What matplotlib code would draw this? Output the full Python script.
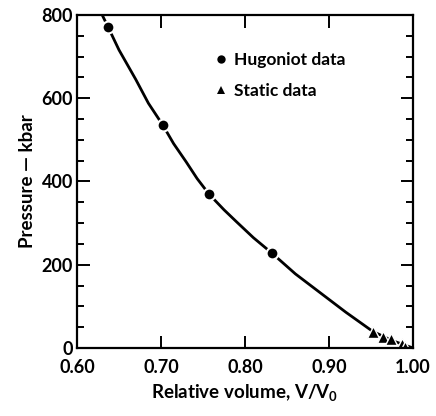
import matplotlib
matplotlib.use("Agg")
import matplotlib.pyplot as plt

plt.rcParams['font.family'] = ['Lato', 'DejaVu Sans']
plt.rcParams['font.weight'] = 'bold'
plt.rcParams['axes.labelweight'] = 'bold'

# values
hug_v = [0.637, 0.702, 0.757, 0.832]
hug_p = [771, 536, 370, 228]
static_v = [0.952, 0.964, 0.974, 0.987, 0.991]
static_p = [38, 26, 22, 10, 3]
curve_v = [0.630, 0.637, 0.65, 0.67, 0.685, 0.702, 0.715, 0.73, 0.743, 0.757, 0.775,
           0.79, 0.81, 0.832, 0.86, 0.89, 0.92, 0.952, 0.975, 1.00]
curve_p = [800, 771, 716, 645, 588, 536, 491, 447, 407, 370, 332,
           303, 265, 228, 178, 132, 86, 40, 18, 0]

fig = plt.figure(figsize=(4.36, 4.16), dpi=100)
ax = fig.add_axes([0.1766, 0.1635, 0.7706, 0.8005])

ax.plot(curve_v, curve_p, color='black', lw=2, zorder=1)
ax.plot(hug_v, hug_p, 'o', color='black', mec='white', mew=1.5, ms=8.5,
        label='Hugoniot data', zorder=2)
ax.plot(static_v, static_p, '^', color='black', mec='white', mew=1.0, ms=8,
        label='Static data', zorder=2)

ax.set_xlim(0.60, 1.00)
ax.set_ylim(0, 800)
ax.set_xticks([0.60, 0.70, 0.80, 0.90, 1.00])
ax.set_xticklabels(['0.60', '0.70', '0.80', '0.90', '1.00'])
ax.set_yticks([0, 200, 400, 600, 800])
ax.set_yticks(range(0, 801, 50), minor=True)

ax.tick_params(which='both', direction='in', top=True, right=True, width=1.4,
               labelsize=13)
ax.tick_params(which='major', length=9)
ax.tick_params(which='minor', length=5)
ax.tick_params(axis='x', pad=8)
ax.tick_params(axis='y', pad=3)
for s in ax.spines.values():
    s.set_linewidth(1.6)

ax.set_xlabel('Relative volume, V/V$_\\mathregular{0}$', fontsize=13.5, labelpad=5)
ax.set_ylabel('Pressure \u2014 kbar', fontsize=13.5, labelpad=4)

leg = ax.legend(loc='upper left', bbox_to_anchor=(0.36, 0.935), frameon=False,
                handlelength=0.8, handletextpad=0.4, labelspacing=0.85,
                fontsize=12.5, numpoints=1)
for h in leg.legend_handles:
    h.set_markeredgewidth(0)
    h.set_markersize(6)

fig.savefig('out.png', dpi=100)
